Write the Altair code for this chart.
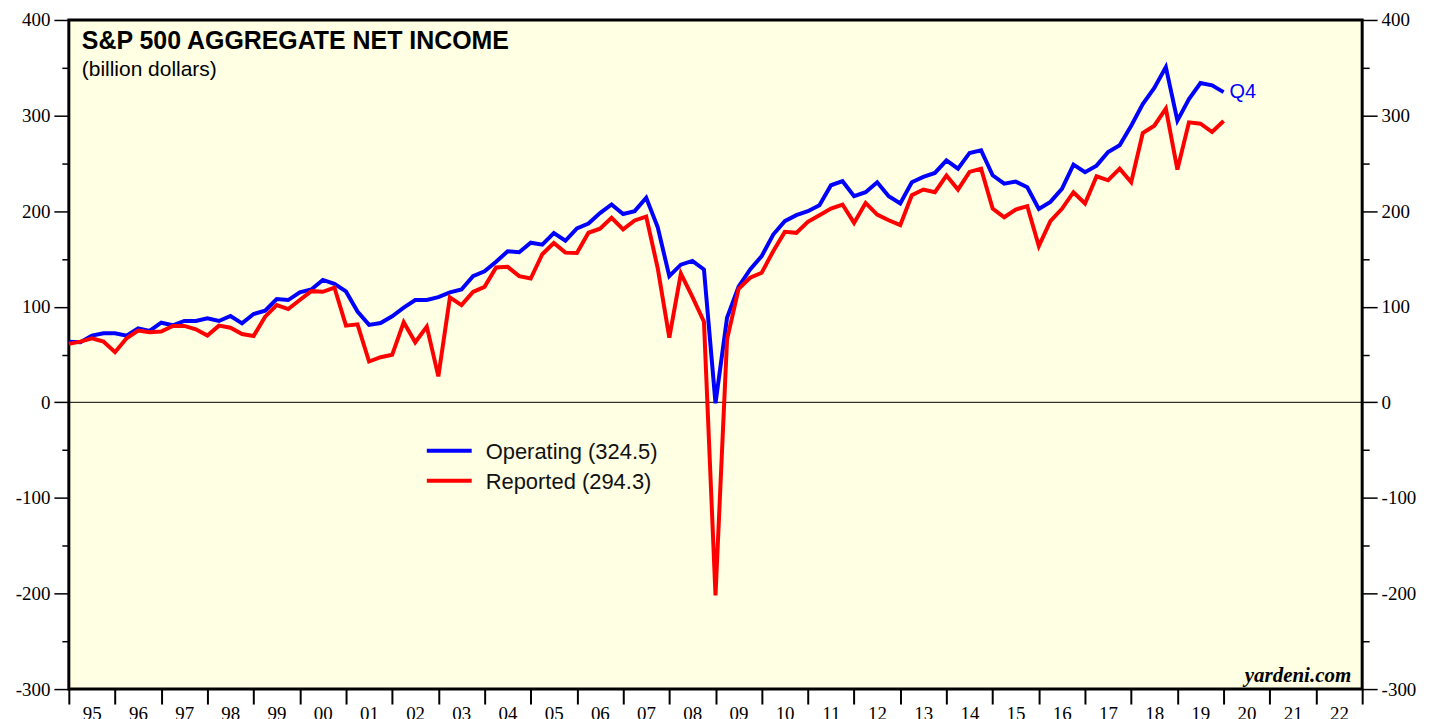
import altair as alt
import pandas as pd

# ---------------- data ----------------
quarters = ["1994Q4"] + [f"{y}Q{q}" for y in range(1995, 2020) for q in range(1, 5)]

operating = [
    63.5, 62.8, 69.8, 72.2, 72.2, 69.8, 77.4, 74.7, 83.3, 80.6,
    85.1, 85.1, 87.8, 85.1, 90.3, 82.6, 92.4, 95.8, 108, 107,
    115, 118, 128, 124, 116, 95, 81, 83, 90, 99,
    107, 107, 110, 115, 118, 132, 137, 147, 158, 157,
    167, 165, 177, 169, 182, 187, 198, 207, 197, 200,
    214, 183, 132, 144, 148, 139, -1,
    88.5, 120.9, 139, 152.9, 175.5, 189.5, 195.8, 199.9, 206.2, 227.1,
    231.3, 215.6, 219.8, 230.2, 215.6, 208, 230.2, 235.8, 240, 253.2,
    244.5, 260.9, 263.6, 237.5, 228.8, 230.9, 225, 202.4, 209.7, 223.3,
    248.7, 240.7, 247.6, 261.9, 268.9, 289.4, 312.1, 328.8, 350.7, 294.7,
    317.3, 334, 331.6, 324.5,
]

reported = [
    61.1, 63.5, 67, 63.5, 52.4, 67, 75, 73.3, 74, 79.9,
    79.9, 76.4, 69.8, 80.2, 78.1, 71.5, 69.4, 89.6, 101.7, 97.6,
    107, 116.3, 115.6, 120.1, 80.2, 81.6, 42.7, 47.2, 49.7, 83.7,
    62.8, 79.2, 27.1, 109.7, 101.7, 115.6, 120.8, 141, 141.7, 132,
    129.5, 154.9, 166.7, 156.6, 156.3, 177.4, 181.6, 193, 180.9, 190.3,
    194.4, 140, 67.7, 134.7, 110.4, 84.4, -202,
    65.8, 118.8, 130.3, 135.5, 158.1, 178.3, 177.3, 188.8, 195.8, 202.7,
    206.9, 187.7, 208.6, 196.4, 190.5, 185.3, 216.6, 222.6, 219.8, 237.2,
    222.6, 241, 244.5, 202.7, 193.6, 201.7, 205.2, 163.4, 189.5, 202.4,
    219.8, 208, 236.5, 232.3, 244.5, 230.2, 281.8, 289.4, 307.2, 243.5,
    292.9, 291.5, 282.8, 294.3,
]

series_names = ["Operating (324.5)", "Reported (294.3)"]
series_colors = ["#0000FF", "#FF0000"]
year_ticks = list(range(1995, 2024))
y_ticks = list(range(-300, 401, 50))
last_label = "Q4"

# ---------------- build table ----------------
def qpos(label):
    return int(label[:4]) + int(label[-1]) / 4.0

rows = []
for name, vals in zip(series_names, [operating, reported]):
    for q, v in zip(quarters, vals):
        rows.append({"quarter": q, "t": qpos(q), "series": name, "value": v})
df = pd.DataFrame(rows)

W, H = 1297, 671
BG = "#FFFFE3"
SERIF = "Liberation Serif"
SANS = "Liberation Sans"

xscale = alt.Scale(domain=[1995, 2023], nice=False, zero=False)
yscale = alt.Scale(domain=[-300, 400], nice=False, zero=False)

x_axis = alt.Axis(
    values=year_ticks, format="d",
    labelExpr="datum.value < 2023 ? substring(datum.label, 2, 4) : ''",
    labelOffset=23, labelFlush=False, labelOverlap=False,
    labelPadding=1, labelBaseline="top",
    labelFont=SERIF, labelFontSize=19, labelColor="black",
    tickSize=15, tickWidth=2, tickColor="black",
    domain=False, grid=False, title=None,
)

minor_tick = {"condition": {"test": "datum.value % 100 != 0", "value": 7}, "value": 15}

def y_axis(orient):
    return alt.Axis(
        orient=orient, values=y_ticks,
        labelExpr="datum.value % 100 == 0 ? toString(datum.value) : ''",
        labelOverlap=False, labelFlush=False, labelPadding=4,
        labelFont=SERIF, labelFontSize=19, labelColor="black",
        tickSize=minor_tick, tickWidth=1.5, tickColor="black",
        domain=False, grid=False, title=None,
    )

color_scale = alt.Scale(domain=series_names, range=series_colors)

lines = alt.Chart(df).mark_line(strokeWidth=4, strokeJoin="miter").encode(
    x=alt.X("t:Q", scale=xscale, axis=x_axis),
    y=alt.Y("value:Q", scale=yscale, axis=y_axis("left")),
    color=alt.Color("series:N", scale=color_scale, legend=None),
    order=alt.Order("t:Q"),
)

zero = alt.Chart(pd.DataFrame({"v": [0]})).mark_rule(color="black", strokeWidth=1).encode(
    y=alt.Y("v:Q", scale=yscale, axis=y_axis("right")),
)

one = pd.DataFrame({"a": [0]})

title = alt.Chart(one).mark_text(
    text="S&P 500 AGGREGATE NET INCOME", font=SANS, fontSize=25, fontWeight="bold",
    align="left", baseline="alphabetic", color="black",
).encode(x=alt.value(13), y=alt.value(29))

subtitle = alt.Chart(one).mark_text(
    text="(billion dollars)", font=SANS, fontSize=21,
    align="left", baseline="alphabetic", color="black",
).encode(x=alt.value(13), y=alt.value(56))

source = alt.Chart(one).mark_text(
    text="yardeni.com", font=SERIF, fontSize=21, fontWeight="bold", fontStyle="italic",
    align="right", baseline="alphabetic", color="black",
).encode(x=alt.value(1286), y=alt.value(664))

# manual legend
leg_y = [432, 462]
leg_layers = []
for name, col, yy in zip(series_names, series_colors, leg_y):
    leg_layers.append(
        alt.Chart(one).mark_rule(color=col, strokeWidth=4).encode(
            x=alt.value(359), x2=alt.value(404), y=alt.value(yy)
        )
    )
    leg_layers.append(
        alt.Chart(one).mark_text(
            text=name, font=SANS, fontSize=22, align="left", baseline="middle", color="#111111"
        ).encode(x=alt.value(418), y=alt.value(yy + 1))
    )

last = df[(df["series"] == series_names[0]) & (df["quarter"] == quarters[-1])].assign(lab=last_label)
q4 = alt.Chart(last).mark_text(
    font=SANS, fontSize=20, align="left", baseline="middle", dx=6, color=series_colors[0]
).encode(
    x=alt.X("t:Q", scale=xscale, axis=x_axis),
    y=alt.Y("value:Q", scale=yscale, axis=None),
    text="lab:N",
)

chart = alt.layer(
    zero, lines, q4, title, subtitle, source, *leg_layers
).resolve_axis(y="independent").properties(
    width=W, height=H,
    autosize=alt.AutoSizeParams(type="none"),
    padding={"left": 61, "top": 11, "right": 60, "bottom": 29},
    background="white",
).configure_view(
    fill=BG, stroke="black", strokeWidth=3,
)

chart.save("out.html", embed_options={"renderer": "svg", "actions": False})
